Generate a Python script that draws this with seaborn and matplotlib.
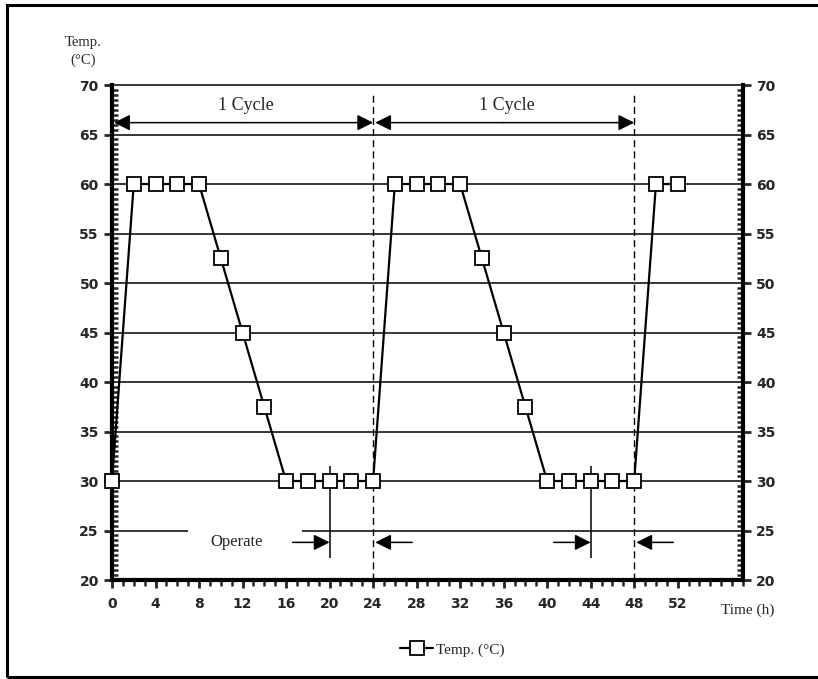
import numpy as np
import pandas as pd
import matplotlib
matplotlib.use("Agg")
import matplotlib.pyplot as plt
import seaborn as sns
from matplotlib.ticker import MultipleLocator
from matplotlib.patches import Rectangle

# Data
time_h = [0, 2, 4, 6, 8, 10, 12, 14, 16, 18, 20, 22, 24,
          26, 28, 30, 32, 34, 36, 38, 40, 42, 44, 46, 48, 50, 52]
temp_c = [30, 60, 60, 60, 60, 52.5, 45, 37.5, 30, 30, 30, 30, 30,
          60, 60, 60, 60, 52.5, 45, 37.5, 30, 30, 30, 30, 30, 60, 60]
cycle_bounds = [0, 24, 48]
operate_ends = [20, 44]
x_ticks = list(range(0, 56, 4))
y_ticks = list(range(20, 75, 5))

df = pd.DataFrame({"Time (h)": time_h, "Temp. (°C)": temp_c})

sns.set_style("white")
plt.rcParams['font.family'] = ['DejaVu Sans']
serif = ['Liberation Serif', 'DejaVu Serif']

fig = plt.figure(figsize=(8.18, 6.79), dpi=100)
ax = fig.add_axes([0.1369, 0.1458, 0.7714, 0.7290])

# horizontal grid lines (25 has a gap behind "Operate")
for y in y_ticks[2:]:
    ax.axhline(y, color='black', lw=1.1, zorder=1)
ax.hlines(25, 0, 7, color='black', lw=1.1, zorder=1)
ax.hlines(25, 17.5, 58, color='black', lw=1.1, zorder=1)

# dashed cycle boundaries
for xb in cycle_bounds[1:]:
    ax.vlines(xb, 20, 69.2, color='black', lw=1, linestyles=(0, (5, 3)), zorder=1)
# operate end markers
for xo in operate_ends:
    ax.vlines(xo, 22.2, 31.5, color='black', lw=1.1, zorder=1)

sns.lineplot(data=df, x="Time (h)", y="Temp. (°C)", ax=ax, color='black',
             lw=1.6, marker='s', markersize=9.5, markerfacecolor='white',
             markeredgecolor='black', markeredgewidth=1.3,
             label='Temp. (°C)', zorder=3)
for ln in ax.lines:
    ln.set_clip_on(False)

# cycle arrows
arrow_kw = dict(arrowstyle='-|>', color='black', lw=1.1, mutation_scale=24,
                shrinkA=0, shrinkB=0)
for a, b in zip(cycle_bounds[:-1], cycle_bounds[1:]):
    ax.annotate('', xy=(b, 66.2), xytext=(a + 12, 66.2), arrowprops=arrow_kw)
    ax.annotate('', xy=(a + 0.2, 66.2), xytext=(a + 12, 66.2), arrowprops=arrow_kw)
    ax.text(a + 12.3, 67.9, '1 Cycle', ha='center', va='center',
            fontsize=13, family=serif)

# operate arrows
for xo, xb in zip(operate_ends, cycle_bounds[1:]):
    ax.annotate('', xy=(xo, 23.8), xytext=(xo - 3.4, 23.8), arrowprops=arrow_kw)
    ax.annotate('', xy=(xb + 0.2, 23.8), xytext=(xb + 3.6, 23.8), arrowprops=arrow_kw)
ax.text(11.5, 23.8, 'Operate', ha='center', va='center', fontsize=12, family=serif)

ax.set_xlim(0, 58)
ax.set_ylim(20, 70)
ax.set_xticks(x_ticks)
ax.set_yticks(y_ticks)
ax.xaxis.set_minor_locator(MultipleLocator(1))
ax.yaxis.set_minor_locator(MultipleLocator(0.5))
ax.set_xlabel('')
ax.set_ylabel('')

for side in ['left', 'right', 'bottom']:
    ax.spines[side].set_linewidth(3)
    ax.spines[side].set_color('black')
ax.spines['top'].set_visible(False)

ax.tick_params(axis='x', which='major', direction='out', length=6, width=2,
               labelsize=10, pad=6, bottom=True)
ax.tick_params(axis='x', which='minor', direction='out', length=4, width=1.8, bottom=True)
ax.tick_params(axis='y', which='major', direction='out', length=6, width=2,
               labelsize=10, left=True, right=True, labelleft=True, labelright=True)
ax.tick_params(axis='y', which='minor', direction='in', length=4, width=1.8,
               left=True, right=True)
for lab in ax.get_xticklabels() + ax.get_yticklabels():
    lab.set_fontweight('bold')

fig.text(0.102, 0.937, 'Temp.', ha='center', va='center', fontsize=10.5, family=serif)
fig.text(0.102, 0.911, '(°C)', ha='center', va='center', fontsize=10.5, family=serif)
fig.text(0.882, 0.1015, 'Time (h)', ha='left', va='center', fontsize=11, family=serif)

ax.legend(loc='center', bbox_to_anchor=(0.553, 0.043), bbox_transform=fig.transFigure,
          frameon=False, prop={'family': serif, 'size': 11}, handlelength=2.2,
          handletextpad=0.2)

fig.patches.append(Rectangle((0.008, 0.003), 1.2, 0.99, transform=fig.transFigure,
                             fill=False, edgecolor='black', lw=2.2, zorder=0))

fig.savefig('out.png', dpi=100)
